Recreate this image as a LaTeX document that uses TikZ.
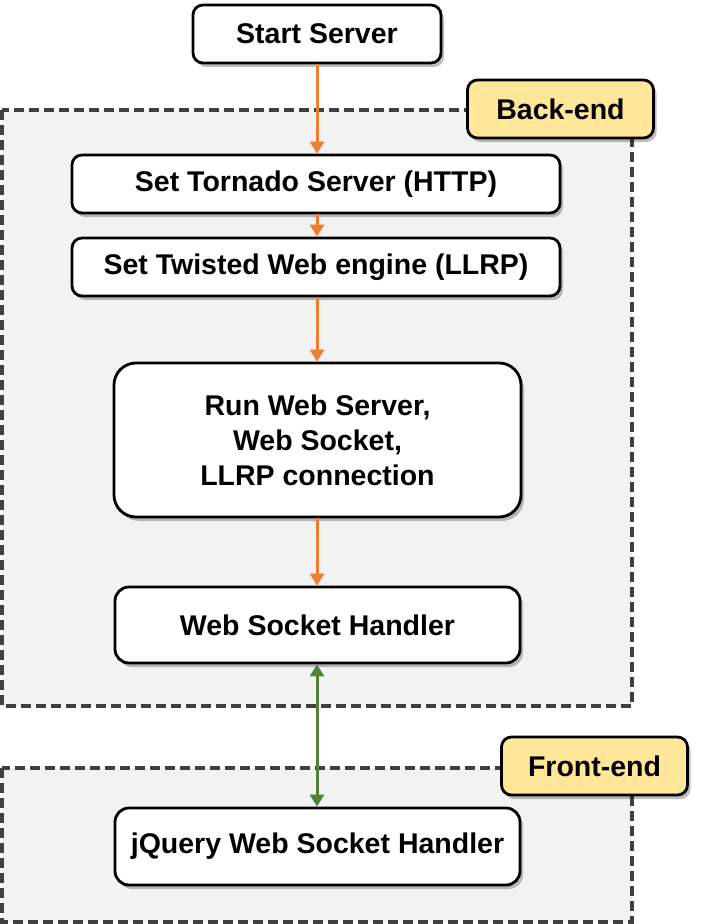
\documentclass[tikz,border=0pt]{standalone}
\usepackage{fontspec}
\setmainfont{Liberation Sans}
\usetikzlibrary{arrows.meta,shadows,positioning}
\definecolor{regionfill}{HTML}{F2F2F2}
\definecolor{regiondraw}{HTML}{404040}
\definecolor{tagfill}{HTML}{FFE699}
\definecolor{flowor}{HTML}{ED7D31}
\definecolor{flowgr}{HTML}{548235}

\begin{document}
\begin{tikzpicture}[x=1pt,y=-1pt]
\tikzstyle{region}=[fill=regionfill,draw=regiondraw,line width=3.5pt,
	dash pattern=on 10pt off 5pt]
\tikzstyle{stepbox}=[rectangle,draw=black,fill=white,line width=2.8pt,
	rounded corners=10pt,inner sep=0pt,align=center,
	font=\fontsize{28.5}{35}\selectfont\bfseries,
	drop shadow={shadow xshift=3pt,shadow yshift=-4pt,fill=black,opacity=0.25},
]
\tikzstyle{tag}=[stepbox,fill=tagfill,minimum width=186pt,minimum height=58pt]
\tikzstyle{flow}=[flowor,line width=3pt,-{Triangle[width=14pt,length=12pt]}]
\tikzstyle{link}=[flowgr,line width=3pt,
	{Triangle[width=14pt,length=12pt]}-{Triangle[width=14pt,length=12pt]}]
\useasboundingbox (0,0) rectangle (702,924);
% regions
\draw[region] (2,110) rectangle (632,706);
\draw[region] (2,768) rectangle (632,922);
% boxes
\node[stepbox,minimum width=248pt,minimum height=58pt] (start) at (317,34) {Start Server};
\node[stepbox,minimum width=488pt,minimum height=58pt] (tornado) at (316,184) {Set Tornado Server (HTTP)};
\node[stepbox,minimum width=488pt,minimum height=58pt] (twisted) at (316,267) {Set Twisted Web engine (LLRP)};
\node[stepbox,rounded corners=22pt,minimum width=407pt,minimum height=154pt] (run) at (317.5,440)
	{Run Web Server,\\Web Socket,\\LLRP connection};
\node[stepbox,rounded corners=14pt,minimum width=405pt,minimum height=76pt] (handler) at (317.5,625) {Web Socket Handler};
\node[stepbox,rounded corners=14pt,minimum width=405pt,minimum height=77pt] (jquery) at (317.5,846.5) {jQuery Web Socket Handler};
% labels
\node[tag] (back) at (560.5,109) {Back-end};
\node[tag] (front) at (594.5,766) {Front-end};
% arrows
\draw[flow] (start.south -| 317,0) -- (tornado.north -| 317,0);
\draw[flow] (tornado.south -| 317,0) -- (twisted.north -| 317,0);
\draw[flow] (twisted.south -| 317,0) -- (run.north -| 317,0);
\draw[flow] (run.south -| 317,0) -- (handler.north -| 317,0);
\draw[link] (handler.south -| 317,0) -- (jquery.north -| 317,0);
\end{tikzpicture}
\end{document}
